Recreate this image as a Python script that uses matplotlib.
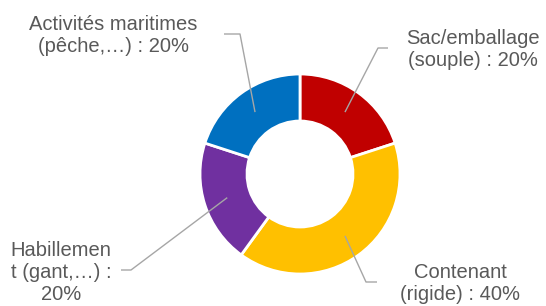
import numpy as np
import matplotlib
matplotlib.use("Agg")
import matplotlib.pyplot as plt

plt.rcParams['font.family'] = ['Liberation Sans', 'DejaVu Sans']

# data
categories = ['Sac/emballage\n(souple)', 'Contenant\n(rigide)', 'Habillemen\nt (gant,…)', 'Activités maritimes\n(pêche,…)']
shares = [20, 40, 20, 20]
colors = ['#C00000', '#FFC000', '#7030A0', '#0070C0']

W, H = 546, 306
cx, cy = 300, H - 174
r_out, r_in = 100, 53

fig = plt.figure(figsize=(W / 100, H / 100), dpi=100)
ax = fig.add_axes([0, 0, 1, 1])

wedges, _ = ax.pie(shares, colors=colors, startangle=90, counterclock=False,
                   center=(cx, cy), radius=r_out, frame=True,
                   wedgeprops=dict(width=r_out - r_in, edgecolor='white', linewidth=2))
ax.set_xlim(0, W)
ax.set_ylim(0, H)
ax.set_aspect('equal')
ax.axis('off')

# label layout: elbow point, line end, text centre (pixels from top-left), separator
layout = [
    dict(elbow=(378, 48), end=(388, 48), text=(473, 49), sep=' : '),
    dict(elbow=(366, 282), end=(377, 282), text=(460, 284), sep=' : '),
    dict(elbow=(131, 270), end=(121, 270), text=(61, 272), sep=' :\n'),
    dict(elbow=(240, 34), end=(224, 34), text=(113, 35), sep=' : '),
]

r_mid = (r_out + r_in) / 2
for w, cat, val, lay in zip(wedges, categories, shares, layout):
    ang = np.deg2rad((w.theta1 + w.theta2) / 2)
    px = cx + r_mid * np.cos(ang)
    py = cy + r_mid * np.sin(ang)
    ex, ey = lay['elbow']
    fx, fy = lay['end']
    ax.plot([px, ex, fx], [py, H - ey, H - fy], color='#A6A6A6', lw=1, solid_capstyle='butt')
    tx, ty = lay['text']
    ax.text(tx, H - ty, f'{cat}{lay["sep"]}{val}%', ha='center', va='center', fontsize=14.5,
            color='#595959', linespacing=1.2)

fig.savefig('out.png', dpi=100)
